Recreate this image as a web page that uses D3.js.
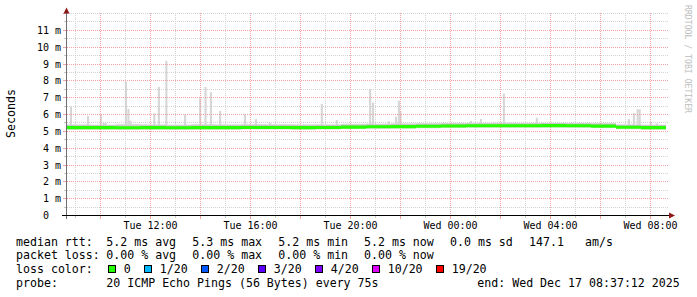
<!DOCTYPE html>
<html>
<head>
<meta charset="utf-8">
<script src="https://cdn.jsdelivr.net/npm/d3@7"></script>
<style>
  body { margin: 0; background: #fff; }
  text { font-family: "DejaVu Sans Mono", monospace; white-space: pre; }
</style>
</head>
<body>
<div id="graph"></div>
<script>
// time window of the graph
const startTime = "2025-12-16 08:37:12";
const endTime = "2025-12-17 08:37:12";

// y ticks (ms) and x tick labels
const yTicks = [0, 1, 2, 3, 4, 5, 6, 7, 8, 9, 10, 11];
const xTickTimes = ["2025-12-16 12:00", "2025-12-16 16:00", "2025-12-16 20:00", "2025-12-17 00:00", "2025-12-17 04:00", "2025-12-17 08:00"];
const xTickLabels = ["Tue 12:00", "Tue 16:00", "Tue 20:00", "Wed 00:00", "Wed 04:00", "Wed 08:00"];

// hourly readings, one per hour from startTime (ms)
const medianRtt = [5.22, 5.22, 5.21, 5.22, 5.21, 5.22, 5.22, 5.23, 5.23, 5.22, 5.23, 5.25,
                   5.27, 5.28, 5.30, 5.32, 5.33, 5.33, 5.33, 5.34, 5.33, 5.31, 5.24, 5.22];
const smokeLow  = [5.10, 5.10, 5.09, 5.10, 5.09, 5.10, 5.10, 5.11, 5.11, 5.10, 5.11, 5.13,
                   5.15, 5.16, 5.18, 5.20, 5.21, 5.21, 5.21, 5.22, 5.21, 5.19, 5.12, 5.10];
const smokeHigh = [5.42, 5.40, 5.44, 5.42, 5.40, 5.43, 5.42, 5.44, 5.43, 5.42, 5.42, 5.45,
                   5.46, 5.48, 5.49, 5.50, 5.50, 5.52, 5.50, 5.51, 5.50, 5.49, 5.42, 5.40];

// smoke spikes (time, max rtt in ms)
const spikeTimes = ["2025-12-16 08:49", "2025-12-16 09:30", "2025-12-16 10:01", "2025-12-16 10:07", "2025-12-16 10:12",
  "2025-12-16 11:01", "2025-12-16 11:07", "2025-12-16 11:12", "2025-12-16 12:09", "2025-12-16 12:20",
  "2025-12-16 12:38", "2025-12-16 13:23", "2025-12-16 13:59", "2025-12-16 14:12", "2025-12-16 14:25",
  "2025-12-16 14:47", "2025-12-16 15:47", "2025-12-16 16:13", "2025-12-16 16:47", "2025-12-16 18:51",
  "2025-12-16 19:27", "2025-12-16 20:47", "2025-12-16 20:54", "2025-12-16 21:32", "2025-12-16 21:49",
  "2025-12-16 21:56", "2025-12-16 22:00", "2025-12-17 00:49", "2025-12-17 01:13", "2025-12-17 02:08",
  "2025-12-17 03:27", "2025-12-17 07:08", "2025-12-17 07:20", "2025-12-17 07:29", "2025-12-17 07:34",
  "2025-12-17 08:01", "2025-12-17 08:15"];
const spikeTops = [6.46, 5.91, 6.01, 5.51, 5.51,
  7.95, 6.33, 5.62, 6.07, 7.64,
  9.18, 6.01, 6.96, 7.64, 7.32,
  6.21, 6.03, 5.73, 5.50, 6.63,
  5.67, 7.52, 6.70, 5.60, 5.87,
  6.82, 6.21, 5.62, 5.73, 7.24,
  5.81, 5.73, 6.09, 6.31, 6.31,
  5.57, 5.48];

// legend values
const rttStats = ["5.2", "5.3", "5.2", "5.2"];
const lossStats = ["0.00", "0.00", "0.00", "0.00"];
const statNames = ["avg", "max", "min", "now"];
const rttSd = "0.0";
const amPerSec = "147.1";
const lossLabels = ["0", "1/20", "2/20", "3/20", "4/20", "10/20", "19/20"];
const lossColors = ["#26ff00", "#00b8ff", "#0059ff", "#5e00ff", "#7e00ff", "#dd00ff", "#ff0000"];
const probeText = "20 ICMP Echo Pings (56 Bytes) every 75s";
const endText = "end: Wed Dec 17 08:37:12 2025";

const width = 697, height = 297;
const parseSec = d3.timeParse("%Y-%m-%d %H:%M:%S");
const parseMin = d3.timeParse("%Y-%m-%d %H:%M");
const t0 = parseSec(startTime), t1 = parseSec(endTime);

let svg = d3.select("#graph")
    .append("svg")
    .attr("width", width)
    .attr("height", height);

let x = d3.scaleTime().domain([t0, t1]).range([66, 666]);
let y = d3.scaleLinear().domain([0, 12]).range([215.5, 13.5]);
let snap = v => Math.floor(v) + 0.5;

// --- smoke (hourly blocks + spikes)
let bins = medianRtt.map(function(m, i) {
    return {t: d3.timeHour.offset(t0, i), t2: d3.timeHour.offset(t0, i + 1), med: m, lo: smokeLow[i], hi: smokeHigh[i]};
});

svg.append("g").selectAll("rect")
    .data(bins).enter().append("rect")
    .attr("x", d => x(d.t))
    .attr("width", d => x(d.t2) - x(d.t))
    .attr("y", d => y(d.hi))
    .attr("height", d => y(d.lo) - y(d.hi))
    .attr("fill", "#dcdcdc");

let spikes = spikeTimes.map(function(s, i) { return {t: parseMin(s), top: spikeTops[i]}; });
let binAt = t => bins[Math.min(23, Math.max(0, Math.floor((t - t0) / 3600000)))];

svg.append("g").selectAll("rect")
    .data(spikes).enter().append("rect")
    .attr("x", d => x(d.t) - 1)
    .attr("width", d => x(d3.timeMinute.offset(d.t, 5)) - x(d.t))
    .attr("y", d => y(d.top))
    .attr("height", d => y(binAt(d.t).med) - y(d.top))
    .attr("fill", "#d6d6d6");

// inner darker smoke just above the median
svg.append("g").selectAll("rect")
    .data(bins).enter().append("rect")
    .attr("x", d => x(d.t))
    .attr("width", d => x(d.t2) - x(d.t))
    .attr("y", d => y(d.med + 0.14))
    .attr("height", d => y(d.med) - y(d.med + 0.14))
    .attr("fill", "#c4c4c4");

// --- grid
let grid = svg.append("g").attr("stroke-width", 1).attr("stroke-dasharray", "1,1");
let hours = d3.timeHour.every(1).range(t0, t1);
hours.forEach(function(h) {
    let major = h.getHours() % 2 === 0;
    grid.append("line")
        .attr("x1", snap(x(h))).attr("x2", snap(x(h)))
        .attr("y1", 13).attr("y2", 215)
        .attr("stroke", major ? "#f2a2a2" : "#d2d2d2");
});
d3.range(1, 25).forEach(function(k) {
    let v = k / 2;
    let major = k % 2 === 0 && v < 12;
    grid.append("line")
        .attr("x1", 67).attr("x2", 668)
        .attr("y1", snap(y(v))).attr("y2", snap(y(v)))
        .attr("stroke", major ? "#f2a2a2" : "#d2d2d2");
});

// --- median band (loss 0 colour)
svg.append("path")
    .datum(bins.concat([{t: t1, med: medianRtt[23]}]))
    .attr("fill", lossColors[0])
    .attr("d", d3.area()
        .curve(d3.curveStepAfter)
        .x(d => x(d.t))
        .y0(d => y(d.med - 0.09))
        .y1(d => y(d.med + 0.09)));

// --- axes
let axes = svg.append("g");
hours.forEach(function(h) {
    let major = h.getHours() % 2 === 0;
    axes.append("line")
        .attr("x1", snap(x(h))).attr("x2", snap(x(h)))
        .attr("y1", 215).attr("y2", major ? 219 : 218)
        .attr("stroke", major ? "#f2a2a2" : "#c8c8c8");
});
d3.range(1, 25).forEach(function(k) {
    axes.append("line")
        .attr("x1", k % 2 === 0 ? 63 : 64).attr("x2", 66)
        .attr("y1", snap(y(k / 2))).attr("y2", snap(y(k / 2)))
        .attr("stroke", k % 2 === 0 ? "#f2a2a2" : "#c8c8c8");
});
axes.append("line")
    .attr("x1", 66.5).attr("x2", 66.5).attr("y1", 219).attr("y2", 12)
    .attr("stroke", "#6e6e6e");
axes.append("line")
    .attr("x1", 62).attr("x2", 670).attr("y1", 215.5).attr("y2", 215.5)
    .attr("stroke", "#000");
axes.append("path")
    .attr("d", "M63.5,13.5 L66.5,7.5 L69.5,13.5 Z")
    .attr("fill", "#8b1a1a");
axes.append("path")
    .attr("d", "M669,212.5 L675,215.5 L669,218.5 Z")
    .attr("fill", "#8b1a1a");

// tick labels
svg.append("g").selectAll("text")
    .data(yTicks).enter().append("text")
    .attr("x", 61)
    .attr("y", d => snap(y(d)) + 3.5)
    .attr("text-anchor", "end")
    .style("font-size", "10px")
    .attr("fill", "#000")
    .text(d => d === 0 ? "0\u00a0\u00a0" : d + " m");

svg.append("g").selectAll("text")
    .data(xTickTimes).enter().append("text")
    .attr("x", d => snap(x(parseMin(d))))
    .attr("y", 228.5)
    .attr("text-anchor", "middle")
    .style("font-size", "10px")
    .text((d, i) => xTickLabels[i]);

// axis title
svg.append("text")
    .attr("transform", "translate(15, 113.5) rotate(-90)")
    .attr("text-anchor", "middle")
    .style("font-size", "11.6px")
    .text("Seconds");

// watermark
svg.append("text")
    .attr("transform", "translate(685, 5) rotate(90)")
    .attr("textLength", 108)
    .attr("lengthAdjust", "spacingAndGlyphs")
    .style("font-size", "9px")
    .attr("fill", "#bdbdbd")
    .text("RRDTOOL / TOBI OETIKER");

// --- legend
let cols = [16, 106.3, 192.3, 278.3, 364, 450, 529, 585];
let rows = [245.5, 259.3, 273.2, 287];
let legend = svg.append("g").style("font-size", "11.6px");
function put(txt, xx, yy) {
    return legend.append("text").attr("x", xx).attr("y", yy).text(txt);
}

put("median rtt:", cols[0], rows[0]);
rttStats.forEach((v, i) => put(v + " ms " + statNames[i], cols[i + 1], rows[0]));
put(rttSd + " ms sd", cols[5], rows[0]);
put(amPerSec, cols[6], rows[0]);
put("am/s", cols[7], rows[0]);

put("packet loss:", cols[0], rows[1]);
lossStats.forEach((v, i) => put(v + " % " + statNames[i], cols[i + 1], rows[1]));

put("loss color:", cols[0], rows[2]);
let bx = 108.5;
lossLabels.forEach(function(lbl, i) {
    legend.append("rect")
        .attr("x", bx).attr("y", 265.5)
        .attr("width", 7).attr("height", 7)
        .attr("fill", lossColors[i])
        .attr("stroke", "#000");
    let t = put(lbl, bx + 15.2, rows[2]);
    bx = bx + 15.2 + t.node().getComputedTextLength() + 14.3;
    bx = Math.floor(bx) + 0.5;
});

put("probe:", cols[0], rows[3]);
put(probeText, cols[1], rows[3]);
put(endText, 477.3, rows[3]);
</script>
</body>
</html>
